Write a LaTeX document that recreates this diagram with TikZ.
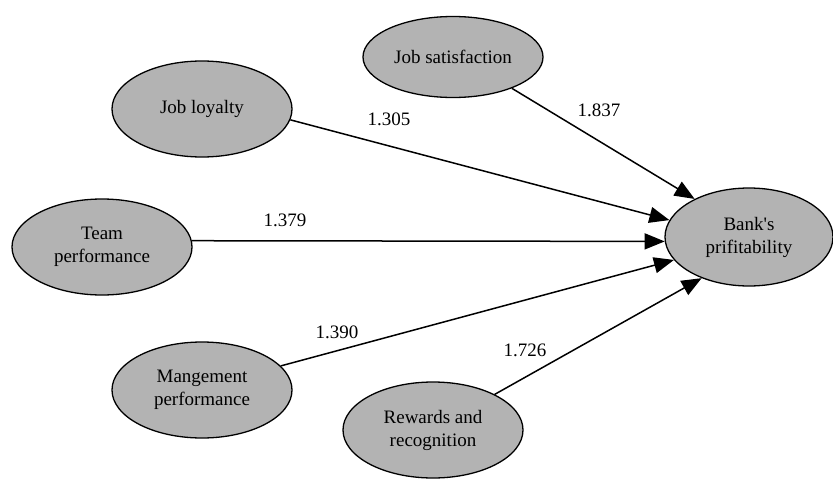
\documentclass[tikz,border=0pt]{standalone}
\usepackage{fontspec}
\setmainfont{Liberation Serif}
\usetikzlibrary{shapes.geometric,arrows.meta}
\definecolor{nodegray}{RGB}{179,179,179}
\tikzset{
  factor/.style={ellipse, draw=black, line width=1.3pt, fill=nodegray,
    minimum width=180pt, minimum height=96pt, inner sep=0pt, align=center,
    font=\fontsize{19}{23}\selectfont},
  link/.style={line width=1.5pt, -{Triangle[length=20pt,width=16pt]}},
  weight/.style={font=\fontsize{19}{23}\selectfont, inner sep=0pt}
}
\begin{document}
\begin{tikzpicture}[x=1pt,y=-1pt]
\useasboundingbox (0,0) rectangle (833,479);
\node[factor, minimum height=81pt] (js) at (453,57) {Job satisfaction};
\node[factor] (jl) at (202,109) {Job loyalty};
\node[factor] (team) at (102,247) {Team\\performance};
\node[factor] (mang) at (202,390) {Mangement\\performance};
\node[factor] (rew) at (433,430) {Rewards and\\recognition};
\node[factor, minimum width=168pt, minimum height=98pt] (bank) at (749,237) {Bank\textquotesingle s\\prifitability};
\draw[link] (js.-28) -- (bank.145);
\draw[link] (jl.-7) -- (bank.168);
\draw[link] (team.4) -- (bank.183);
\draw[link] (mang.17) -- (bank.197);
\draw[link] (rew.30) -- (bank.221);
\node[weight] (w1) at (389,119) {1.305};
\node[weight] (w2) at (599,110) {1.837};
\node[weight] (w3) at (285,220) {1.379};
\node[weight] (w4) at (337,332) {1.390};
\node[weight] (w5) at (525,350) {1.726};
\end{tikzpicture}
\end{document}
